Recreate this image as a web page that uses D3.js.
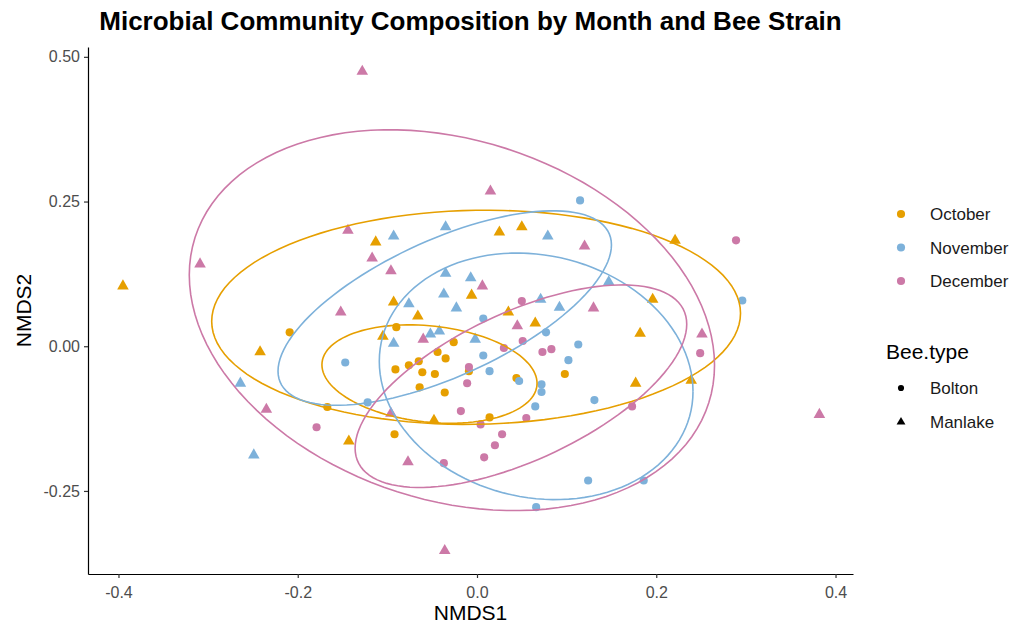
<!DOCTYPE html>
<html>
<head>
<meta charset="utf-8">
<script src="https://cdn.jsdelivr.net/npm/d3@7"></script>
<style>
  body { margin: 0; background: #fff; }
  svg { font-family: "Liberation Sans", Arial, sans-serif; }
</style>
</head>
<body>
<svg id="chart" width="1013" height="626"></svg>
<script>
// NMDS scores, [NMDS1, NMDS2]
var octoberBolton = [[-0.209,0.024],[-0.167,-0.105],[-0.090,0.033],[-0.026,0.007],[-0.044,-0.010],[-0.035,-0.021],
  [-0.065,-0.026],[-0.076,-0.033],[-0.091,-0.040],[-0.061,-0.045],[-0.047,-0.048],[-0.009,-0.043],[-0.064,-0.071],
  [-0.036,-0.080],[0.044,-0.055],[0.098,-0.048],[0.014,-0.123],[-0.092,-0.152]];
var octoberManlake = [[-0.395,0.104],[-0.242,-0.010],[-0.113,0.180],[-0.143,-0.164],[-0.105,0.017],[0.025,0.197],
  [0.050,0.206],[-0.093,0.076],[-0.066,0.052],[-0.006,0.088],[0.035,0.059],[0.065,0.040],[0.196,0.081],
  [0.182,0.022],[0.177,-0.064],[0.221,0.183],[-0.048,-0.128],[0.239,-0.059]];
var novemberBolton = [[-0.147,-0.028],[-0.122,-0.097],[0.007,0.048],[0.077,0.024],[0.007,-0.016],[0.014,-0.043],
  [0.047,-0.060],[0.072,-0.066],[0.072,-0.079],[0.102,-0.024],[0.113,0.003],[0.065,-0.104],[0.131,-0.093],
  [0.124,-0.232],[0.186,-0.232],[0.066,-0.278],[0.115,0.252],[0.296,0.079]];
var novemberManlake = [[-0.249,-0.188],[-0.264,-0.064],[-0.093,0.190],[-0.035,0.206],[0.079,0.190],[-0.035,0.126],
  [-0.007,0.118],[-0.037,0.090],[-0.076,0.073],[-0.023,0.066],[0.071,0.081],[0.092,0.067],[0.147,0.111],
  [-0.052,0.021],[-0.042,0.026],[-0.093,0.005],[-0.002,0.012]];
var decemberBolton = [[0.289,0.183],[0.050,0.078],[0.051,0.009],[0.030,-0.003],[0.073,-0.010],[0.083,-0.005],
  [-0.009,-0.036],[-0.011,-0.064],[0.173,-0.104],[-0.018,-0.112],[0.055,-0.124],[0.004,-0.135],[0.028,-0.152],
  [0.020,-0.171],[0.008,-0.192],[-0.037,-0.202],[-0.179,-0.140],[0.249,-0.012]];
var decemberManlake = [[-0.128,0.475],[-0.144,0.200],[-0.117,0.152],[-0.096,0.130],[-0.309,0.142],[-0.152,0.059],
  [-0.235,-0.109],[0.015,0.268],[0.120,0.173],[0.006,0.104],[-0.060,0.012],[0.045,0.035],[0.130,0.066],
  [-0.096,-0.116],[-0.077,-0.200],[-0.036,-0.353],[0.382,-0.118],[0.251,0.021]];

// ellipses: centre, half width, NMDS2 offset of rightmost point, half height
var ellipseMonth = ["October","October","November","November","December","December"];
var ellipseCx = [-0.053,-0.001,-0.036,0.066,0.049,-0.028];
var ellipseCy = [-0.048,0.050,0.066,-0.052,-0.069,0.045];
var ellipseW  = [0.120,0.295,0.186,0.175,0.185,0.293];
var ellipseDy = [-0.016,0.007,0.109,-0.026,0.107,-0.078];
var ellipseH  = [0.085,0.185,0.168,0.213,0.175,0.329];

var months = ["October","November","December"];
var beeTypes = ["Bolton","Manlake"];
var xTicks = [-0.4,-0.2,0.0,0.2,0.4];
var yTicks = [-0.25,0.00,0.25,0.50];

var colors = {October:"#E69F00", November:"#7DB1DA", December:"#CC79A7"};

var groups = [
  {month:"October", bee:"Bolton", pts:octoberBolton},
  {month:"October", bee:"Manlake", pts:octoberManlake},
  {month:"November", bee:"Bolton", pts:novemberBolton},
  {month:"November", bee:"Manlake", pts:novemberManlake},
  {month:"December", bee:"Bolton", pts:decemberBolton},
  {month:"December", bee:"Manlake", pts:decemberManlake}
];

var svg = d3.select("#chart");
var panelLeft = 88, panelRight = 853, panelTop = 47, panelBottom = 574;

var x = d3.scaleLinear().domain([-0.434, 0.4195]).range([panelLeft, panelRight]);
var y = d3.scaleLinear().domain([-0.3935, 0.517]).range([panelBottom, panelTop]);

var circle = d3.symbol().type(d3.symbolCircle).size(52);
var triangle = d3.symbol().type(d3.symbolTriangle).size(58);

// points
groups.forEach(function(g){
  svg.append("g").selectAll("path")
    .data(g.pts)
    .enter()
    .append("path")
    .attr("transform", function(d){ return "translate(" + x(d[0]) + "," + y(d[1]) + ")"; })
    .attr("d", g.bee == "Bolton" ? circle() : triangle())
    .attr("fill", colors[g.month]);
});

// ellipses
var line = d3.line().x(function(d){ return x(d[0]); }).y(function(d){ return y(d[1]); });
ellipseMonth.forEach(function(m, i){
  var k = Math.sqrt(ellipseH[i]*ellipseH[i] - ellipseDy[i]*ellipseDy[i]);
  var pts = d3.range(0, 361, 3).map(function(a){
    var t = a * Math.PI / 180;
    return [ellipseCx[i] + ellipseW[i]*Math.cos(t), ellipseCy[i] + ellipseDy[i]*Math.cos(t) + k*Math.sin(t)];
  });
  svg.append("path")
    .attr("d", line(pts))
    .attr("fill", "none")
    .attr("stroke", colors[m])
    .attr("stroke-width", 1.6);
});

// axes
var xAxis = svg.append("g")
  .attr("transform", "translate(0," + panelBottom + ")")
  .call(d3.axisBottom(x).tickValues(xTicks).tickSize(4).tickSizeOuter(0).tickFormat(function(d){ return d.toFixed(1); }));
var yAxis = svg.append("g")
  .attr("transform", "translate(" + panelLeft + ",0)")
  .call(d3.axisLeft(y).tickValues(yTicks).tickSize(4).tickSizeOuter(0).tickFormat(function(d){ return d.toFixed(2); }));

[xAxis, yAxis].forEach(function(a){
  a.select(".domain").attr("stroke", "#000").attr("stroke-width", 1.2);
  a.selectAll(".tick line").attr("stroke", "#333").attr("stroke-width", 1.2);
  a.selectAll(".tick text").attr("fill", "#4D4D4D").attr("font-size", "16px");
});
xAxis.selectAll(".tick text").attr("dy", "1.05em");
yAxis.selectAll(".tick text").attr("x", -8);

svg.append("text")
  .attr("x", (panelLeft + panelRight) / 2)
  .attr("y", 30)
  .attr("text-anchor", "middle")
  .attr("font-weight", "bold")
  .attr("font-size", "26px")
  .text("Microbial Community Composition by Month and Bee Strain");

svg.append("text")
  .attr("x", (panelLeft + panelRight) / 2)
  .attr("y", 620)
  .attr("text-anchor", "middle")
  .attr("font-size", "21px")
  .text("NMDS1");

svg.append("text")
  .attr("transform", "translate(31," + ((panelTop + panelBottom) / 2) + ") rotate(-90)")
  .attr("text-anchor", "middle")
  .attr("font-size", "21px")
  .text("NMDS2");

// legend: months
months.forEach(function(m, i){
  var ly = 214 + i * 33.5;
  svg.append("path")
    .attr("transform", "translate(901," + ly + ")")
    .attr("d", circle())
    .attr("fill", colors[m]);
  svg.append("text")
    .attr("x", 930)
    .attr("y", ly + 6)
    .attr("font-size", "17px")
    .attr("fill", "#1a1a1a")
    .text(m);
});

// legend: bee type
svg.append("text")
  .attr("x", 886)
  .attr("y", 359)
  .attr("font-size", "21px")
  .text("Bee.type");

var smallCircle = d3.symbol().type(d3.symbolCircle).size(30);
var smallTriangle = d3.symbol().type(d3.symbolTriangle).size(34);
beeTypes.forEach(function(b, i){
  var ly = 388 + i * 34;
  svg.append("path")
    .attr("transform", "translate(901," + ly + ")")
    .attr("d", b == "Bolton" ? smallCircle() : smallTriangle())
    .attr("fill", "#000");
  svg.append("text")
    .attr("x", 930)
    .attr("y", ly + 6)
    .attr("font-size", "17px")
    .attr("fill", "#1a1a1a")
    .text(b);
});
</script>
</body>
</html>
